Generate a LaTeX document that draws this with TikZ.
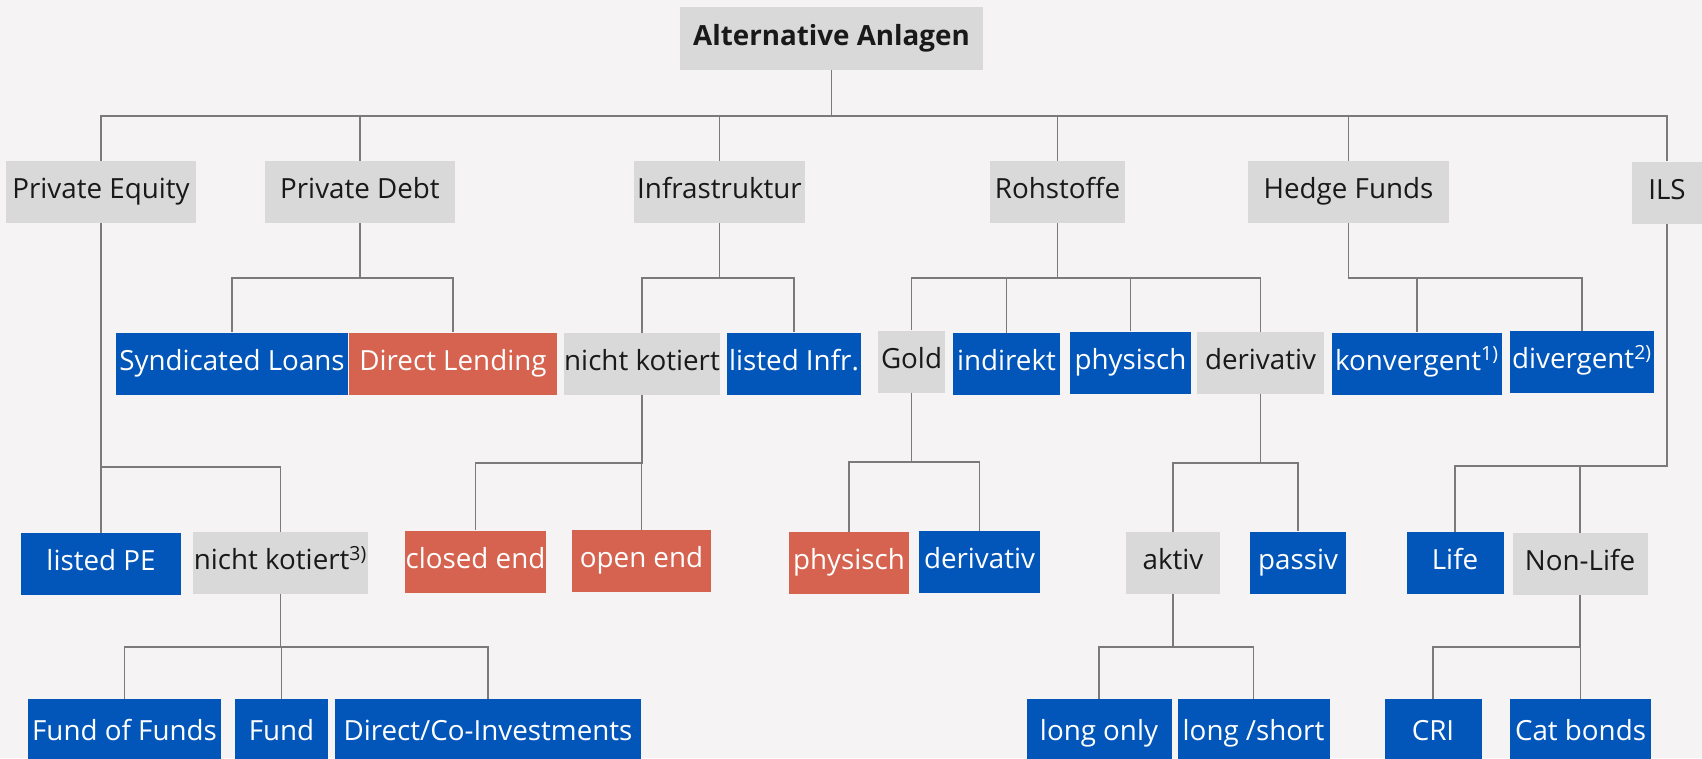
\documentclass[tikz,border=0pt]{standalone}
\usepackage{fontspec}
\setmainfont{Open Sans}
\usepackage{tikz}
\usetikzlibrary{positioning,calc}
\usepackage{xcolor}
\definecolor{bgpaper}{HTML}{F5F3F4}
\definecolor{cellgrey}{HTML}{D9D9D9}
\definecolor{cellblue}{HTML}{0256B9}
\definecolor{cellred}{HTML}{D5634F}
\definecolor{linkgrey}{HTML}{7A7A7A}
\tikzset{
  cell/.style     ={inner sep=0pt,align=center,minimum height=1.24cm,
                     text height=0.43cm,text depth=0.17cm,
                     font=\fontsize{15.8}{18}\selectfont},
  greybox/.style  ={cell,fill=cellgrey,text=black!90},
  bluebox/.style  ={cell,fill=cellblue,text=white},
  redbox/.style   ={cell,fill=cellred,text=white},
  link/.style     ={draw=linkgrey,line width=0.9pt},
}

\begin{document}
\begin{tikzpicture}[x=0.02cm,y=-0.02cm]
\fill[bgpaper] (0,0) rectangle (1702,758);
\useasboundingbox (0,0) rectangle (1702,758);
% ---- root ----
\node[greybox,minimum width=6.06cm,minimum height=1.26cm,font=\fontsize{15.8}{18}\selectfont\bfseries]
  (root) at (831.5,38.5) {Alternative Anlagen};
% ---- first level ----
\node[greybox,minimum width=3.82cm] (pe)  at (101,192)    {Private Equity};
\node[greybox,minimum width=3.80cm] (pd)  at (360,192)    {Private Debt};
\node[greybox,minimum width=3.44cm] (inf) at (719.5,192)  {Infrastruktur};
\node[greybox,minimum width=2.70cm] (roh) at (1057.5,192) {Rohstoffe};
\node[greybox,minimum width=4.02cm] (hf)  at (1348.5,192) {Hedge Funds};
\node[greybox,minimum width=1.42cm] (ils) at (1667,192.5) {ILS};
% ---- second level ----
\node[bluebox,minimum width=4.64cm] (sl)   at (232,363.5)  {Syndicated Loans};
\node[redbox, minimum width=4.16cm] (dl)   at (453,363.5)  {Direct Lending};
\node[greybox,minimum width=3.12cm] (ink)  at (642,364)    {nicht kotiert};
\node[bluebox,minimum width=2.68cm] (lif)  at (794,363.5)  {listed Infr.};
\node[greybox,minimum width=1.34cm] (gold) at (911.5,361.5){Gold};
\node[bluebox,minimum width=2.14cm] (ind)  at (1006.5,364) {indirekt};
\node[bluebox,minimum width=2.42cm] (phy)  at (1130.5,362.5){physisch};
\node[greybox,minimum width=2.54cm] (der)  at (1260.5,363) {derivativ};
\node[bluebox,minimum width=3.40cm] (kon)  at (1417,363.5) {konvergent\textsuperscript{1)}};
\node[bluebox,minimum width=2.88cm] (div)  at (1582,362)   {divergent\textsuperscript{2)}};
% ---- third level ----
\node[bluebox,minimum width=3.20cm] (lpe)  at (101,564)    {listed PE};
\node[greybox,minimum width=3.52cm] (pnk)  at (280.5,563)  {nicht kotiert\textsuperscript{3)}};
\node[redbox, minimum width=2.82cm] (ce)   at (475.5,561.5){closed end};
\node[redbox, minimum width=2.78cm] (oe)   at (641.5,561)  {open end};
\node[redbox, minimum width=2.40cm] (gphy) at (849,563)    {physisch};
\node[bluebox,minimum width=2.42cm] (gder) at (979.5,562)  {derivativ};
\node[greybox,minimum width=1.88cm] (akt)  at (1173,563)   {aktiv};
\node[bluebox,minimum width=1.92cm] (pas)  at (1298,562.5) {passiv};
\node[bluebox,minimum width=1.94cm] (life) at (1455,563)   {Life};
\node[greybox,minimum width=2.70cm] (nl)   at (1580,564)   {Non-Life};
% ---- fourth level (cut by the lower edge) ----
\node[bluebox,minimum width=3.88cm,minimum height=1.40cm] (fof)  at (124.5,734) {Fund of Funds};
\node[bluebox,minimum width=1.86cm,minimum height=1.40cm] (fund) at (281.5,734) {Fund};
\node[bluebox,minimum width=6.14cm,minimum height=1.40cm] (dci)  at (488,734)   {Direct/Co-Investments};
\node[bluebox,minimum width=2.90cm,minimum height=1.40cm] (lo)   at (1099,734)  {long only};
\node[bluebox,minimum width=3.04cm,minimum height=1.40cm] (ls)   at (1253.5,734){long /short};
\node[bluebox,minimum width=1.94cm,minimum height=1.40cm] (cri)  at (1433,734)  {CRI};
\node[bluebox,minimum width=2.82cm,minimum height=1.40cm] (cat)  at (1580.5,734){Cat bonds};
% ---- tree links ----
\foreach \p/\c/\y in {root/pe/116,root/pd/116,root/inf/116,root/roh/116,root/hf/116,root/ils/116,
    pe/lpe/467,pe/pnk/467,pd/sl/278,pd/dl/278,inf/ink/278,inf/lif/278,
    roh/gold/278,roh/ind/278,roh/phy/278,roh/der/278,hf/kon/278,hf/div/278,
    ils/life/466,ils/nl/466,ink/ce/463,ink/oe/463,gold/gphy/462,gold/gder/462,
    der/akt/463,der/pas/463,pnk/fof/647,pnk/fund/647,pnk/dci/647,
    akt/lo/647,akt/ls/647,nl/cri/647,nl/cat/647}
  \draw[link] (\p.south) -- (\p.south |- 0,\y) -| (\c.north);
\end{tikzpicture}
\end{document}
